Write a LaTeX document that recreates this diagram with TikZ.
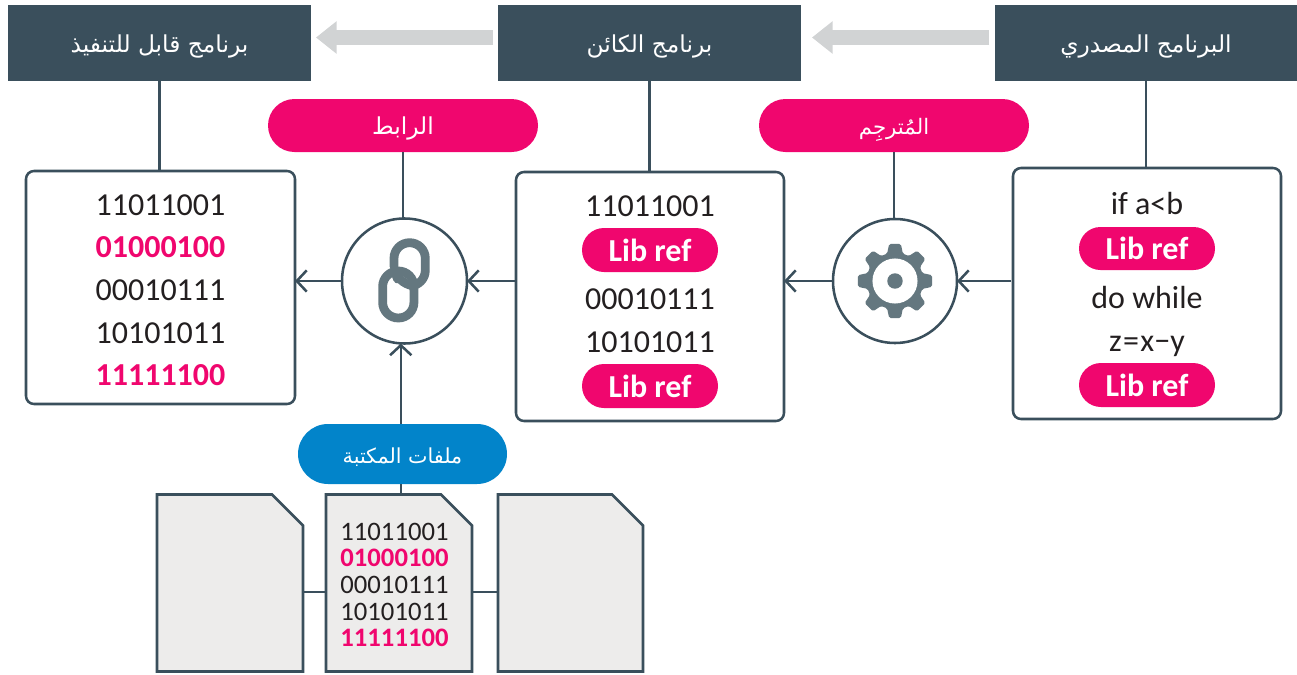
\documentclass[tikz,border=0pt]{standalone}
\usepackage{fontspec}
\setmainfont{Carlito}
\newfontfamily\arabicfont[Script=Arabic]{DejaVu Sans}
\TeXXeTstate=1
\usetikzlibrary{arrows.meta,calc}
\definecolor{slate}{HTML}{3A4F5C}
\definecolor{hotpink}{HTML}{F0066E}
\definecolor{skyb}{HTML}{0284CA}
\definecolor{pale}{HTML}{D1D3D4}
\definecolor{icon}{HTML}{64777F}
\definecolor{paper}{HTML}{EDECEB}
\definecolor{ink}{HTML}{231F20}
\tikzset{
  sized/.style 2 args={minimum width=#1*.75pt,minimum height=#2*.75pt,inner sep=0pt,outer sep=0pt},
  header/.style 2 args={sized={#1}{#2},fill=slate,text=white,text height=13.5pt,text depth=0pt,font=\arabicfont\fontsize{17.5}{20}\selectfont},
  pill/.style n args={4}{sized={#1}{#2},fill=#3,rounded corners=#2*.375pt-.01pt,text=white,text height=13.5pt,text depth=0pt,font=\arabicfont\fontsize{#4}{20}\selectfont},
  libref/.style n args={2}{sized={#1}{#2},fill=hotpink,rounded corners=#2*.375pt-.01pt,text=white,font=\bfseries\fontsize{24}{28}\selectfont},
  codebox/.style 2 args={sized={#1}{#2},draw=slate,line width=1.9pt,rounded corners=6pt,fill=white},
  hub/.style={circle,draw=slate,line width=1.9pt,fill=white,minimum size=#1*.75pt,inner sep=0pt,outer sep=0pt},
  code/.style={text=ink,inner sep=0pt,text height=15.4pt,text depth=0pt,font=\fontsize{24}{28}\selectfont},
  codehot/.style={code,text=hotpink,font=\bfseries\fontsize{24}{28}\selectfont},
  small/.style={text=ink,inner sep=0pt,text height=12.8pt,text depth=0pt,font=\fontsize{20}{24}\selectfont},
  smallhot/.style={small,text=hotpink,font=\bfseries\fontsize{20}{24}\selectfont},
  wire/.style={draw=slate,line width=1.9pt},
  arrowwire/.style={wire,-{Straight Barb[length=7.5pt,width=16pt,line width=1.9pt]}},
  flow/.style={draw=pale,line width=11.25pt,-{Triangle[length=15.5pt,width=23.5pt]}},
  sheet/.style 2 args={sized={#1}{#2}},
  sheetline/.style={draw=slate,line width=1.9pt,fill=paper,line join=miter},
  chain/.style={draw=icon,line width=6.6pt,rounded corners=11.7pt,line cap=round}
}
\begin{document}
\begin{tikzpicture}[x=.75pt,y=-.75pt]
\useasboundingbox (0,0) rectangle (1297,675);
% headers
\node[header={303}{76}] (exe) at (159.5,43) {\beginR برنامج قابل للتنفيذ\endR};
\node[header={303}{76}] (obj) at (649.5,43) {\beginR برنامج الكائن\endR};
\node[header={302}{76}] (src) at (1146,43) {\beginR البرنامج المصدري\endR};
% pills
\node[pill={270}{53}{hotpink}{17.5}] (linker) at (403,125.5) {\beginR الرابط\endR};
\node[pill={270}{53}{hotpink}{16}] (compiler) at (894,125.5) {\beginR المُترجِم\endR};
\node[pill={209}{60}{skyb}{15.5}] (libs) at (402.5,454) {\beginR ملفات المكتبة\endR};
% code boxes
\node[codebox={269}{233}] (boxexe) at (160.5,287.5) {};
\node[codebox={268}{249}] (boxobj) at (650,296.5) {};
\node[codebox={268}{251}] (boxsrc) at (1147,293.5) {};
% hubs
\node[hub=125] (link) at (404.5,281) {};
\node[hub=124] (gear) at (895,281) {};
% connectors
\draw[wire] (exe.south) -- (exe.south |- boxexe.north);
\draw[wire] (obj.south) -- (obj.south |- boxobj.north);
\draw[wire] (src.south) -- (src.south |- boxsrc.north);
\draw[wire] (linker.south) -- (linker.south |- link.north);
\draw[wire] (compiler.south) -- (compiler.south |- gear.north);
\draw[arrowwire] (link.west) -- (link.west -| boxexe.east);
\draw[arrowwire] (link.east -| boxobj.west) -- (link.east);
\draw[arrowwire] (gear.west) -- (gear.west -| boxobj.east);
\draw[arrowwire] ($(gear.east -| boxsrc.west)+(-2,0)$) -- (gear.east);
\draw[arrowwire] ([xshift=-1.3pt]libs.north) -- ([xshift=-1.3pt]libs.north |- link.south);
\draw[flow] ($(obj.west)+(-5,-5.5)$) -- ($(exe.east)+(5,-5.5)$);
\draw[flow] ($(src.west)+(-6,-5.5)$) -- ($(obj.east)+(11,-5.5)$);
% exe text
\node[code] (e1) at (160.5,205) {11011001};
\node[codehot] (e2) at (160.5,247.5) {01000100};
\node[code] (e3) at (160.5,290) {00010111};
\node[code] (e4) at (160.5,333) {10101011};
\node[codehot] (e5) at (160.5,375.5) {11111100};
% obj text
\node[code] (o1) at (650,206.5) {11011001};
\node[libref={136}{44}] (o2) at (650,250) {Lib ref};
\node[code] (o3) at (650,299) {00010111};
\node[code] (o4) at (650,342) {10101011};
\node[libref={136}{44}] (o5) at (650,386) {Lib ref};
% src text
\node[code] (s1) at (1147,204) {if a<b};
\node[libref={136}{43}] (s2) at (1147,248.5) {Lib ref};
\node[code] (s3) at (1147,298) {do while};
\node[code] (s4) at (1147,341) {z\kern1pt=\kern1pt x−y};
\node[libref={136}{44}] (s5) at (1147,385) {Lib ref};
% gear icon
\begin{scope}[shift={(gear.center)}]
\fill[icon,rounded corners=1.2pt]
  \foreach \a in {0,45,...,315}{
    \ifnum\a=0 (\a-16:28.5) \else -- (\a-16:28.5) \fi
    -- (\a-9:37.5) -- (\a+9:37.5) -- (\a+16:28.5)
  } -- cycle;
\fill[white] (0,0) circle[radius=16.9pt];
\fill[icon] (0,0) circle[radius=5.8pt];
\end{scope}
% chain icon
\node[sized={31.3}{47},draw=icon,line width=6.6pt,rounded corners=11.7pt] (lowerlink) at (398.3,294.5) {};
\draw[draw=white,line width=9pt] (405,285.5) -- (397,280);
\draw[chain] (394,266.5) -- (394,242.7) -- (425.3,242.7) -- (425.3,286) -- (400,286) -- (397.5,279);
% library documents
\node[sheet={146}{177}] (doca) at (230,583) {};
\node[sheet={146}{177}] (docb) at (399,583) {};
\node[sheet={145}{177}] (docc) at (570.5,583) {};
\draw[wire] ([xshift=-1.3pt]libs.south) -- ([xshift=-1.3pt]libs.south |- docb.north);
\draw[wire] ($(doca.east)+(0,9)$) -- ($(docb.west)+(0,9)$);
\draw[wire] ($(docb.east)+(0,9)$) -- ($(docc.west)+(0,9)$);
\foreach \d in {doca,docb,docc}{
  \draw[sheetline] (\d.north west) -- ($(\d.north east)+(-31,0)$) -- ($(\d.north east)+(0,31)$) -- (\d.south east) -- (\d.south west) -- cycle;
}
\node[small] (d1) at (394.5,532) {11011001};
\node[smallhot] (d2) at (394.5,558) {01000100};
\node[small] (d3) at (394.5,585) {00010111};
\node[small] (d4) at (394.5,611.5) {10101011};
\node[smallhot] (d5) at (394.5,638) {11111100};
\end{tikzpicture}
\end{document}
